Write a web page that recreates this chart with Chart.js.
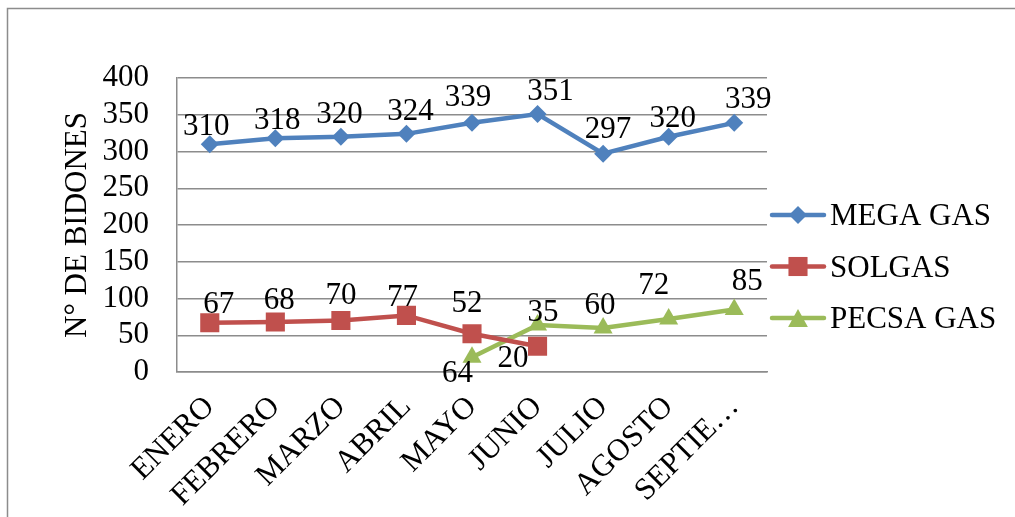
<!DOCTYPE html>
<html><head><meta charset="utf-8">
<script src="https://cdn.jsdelivr.net/npm/chart.js@4.4.1/dist/chart.umd.min.js"></script>
<style>html,body{margin:0;padding:0;background:#fff;overflow:hidden}</style>
</head><body>
<canvas id="c" width="1015" height="517"></canvas>
<script>
// ---- data ----
const months = ['ENERO','FEBRERO','MARZO','ABRIL','MAYO','JUNIO','JULIO','AGOSTO','SEPTIEMBRE'];
const megaGas  = [310,318,320,324,339,351,297,320,339];
const solgas   = [67,68,70,77,52,35,null,null,null];
const pecsaGas = [null,null,null,null,20,64,60,72,85];
const megaGasLabels  = ['310','318','320','324','339','351','297','320','339'];
const solgasLabels   = ['67','68','70','77','52','35','','',''];
const pecsaGasLabels = ['','','','','64','20','60','72','85'];
const seriesNames = ['MEGA GAS','SOLGAS','PECSA GAS'];
const yMin = 0, yMax = 400, yStep = 50;
const yTitle = 'N° DE BIDONES';

// ---- style ----
const FONT = '"Liberation Serif","Times New Roman",serif';
const FS = 31;
const colors = ['#4F81BD','#C0504D','#9BBB59'];
const pointStyles = ['rectRot','rect','triangle'];
const pointRadii = [9,13.5,11];
// label offsets (dx, dy) of label center from its point
const labelOffsets = [
  [[-3.5,-19],[2,-20],[-1.5,-24],[4,-24],[-4,-27],[13,-24],[5,-26],[4,-20],[14,-25]],
  [[9,-20],[4,-23],[0,-27],[-4,-20],[-5,-32],[5.5,-36],null,null,null],
  [null,null,null,null,[-14.5,14],[-24.5,32],[-3,-24],[-15,-35],[13,-30]]
];
const labelTexts = [megaGasLabels, solgasLabels, pecsaGasLabels];

const dataLabelPlugin = {
  id: 'dataLabels',
  afterDatasetsDraw(chart) {
    const ctx = chart.ctx;
    ctx.save();
    ctx.font = FS + 'px ' + FONT;
    ctx.fillStyle = '#000';
    ctx.textAlign = 'center';
    ctx.textBaseline = 'alphabetic';
    chart.data.datasets.forEach((ds, i) => {
      const meta = chart.getDatasetMeta(i);
      meta.data.forEach((pt, j) => {
        const t = labelTexts[i][j];
        const off = labelOffsets[i][j];
        if (!t || !off || ds.data[j] == null) return;
        ctx.fillText(t, pt.x + off[0], pt.y + off[1] + 0.33 * FS);
      });
    });
    ctx.restore();
  }
};

function drawMarker(ctx, style, x, y, r, color) {
  ctx.fillStyle = color;
  ctx.beginPath();
  if (style === 'rectRot') {
    ctx.moveTo(x - r, y); ctx.lineTo(x, y - r); ctx.lineTo(x + r, y); ctx.lineTo(x, y + r);
  } else if (style === 'rect') {
    const s = Math.SQRT1_2 * r;
    ctx.rect(x - s, y - s, 2 * s, 2 * s);
  } else {
    const h = r * 0.82;
    ctx.moveTo(x, y - h); ctx.lineTo(x + r * 0.9, y + h); ctx.lineTo(x - r * 0.9, y + h);
  }
  ctx.closePath();
  ctx.fill();
}

const legendPlugin = {
  id: 'sideLegend',
  afterDraw(chart) {
    const ctx = chart.ctx;
    const x0 = 772, x1 = 824, tx = 830, y0 = 215, gap = 51.5;
    ctx.save();
    chart.data.datasets.forEach((ds, i) => {
      const y = y0 + i * gap;
      ctx.strokeStyle = ds.borderColor;
      ctx.lineWidth = 4.5;
      ctx.lineCap = 'round';
      ctx.beginPath(); ctx.moveTo(x0, y); ctx.lineTo(x1, y); ctx.stroke();
      drawMarker(ctx, pointStyles[i], (x0 + x1) / 2, y, pointRadii[i], ds.borderColor);
      ctx.fillStyle = '#000';
      ctx.font = FS + 'px ' + FONT;
      ctx.textAlign = 'left';
      ctx.textBaseline = 'alphabetic';
      ctx.fillText(ds.label, tx, y + 0.33 * FS);
    });
    ctx.restore();
  }
};

const framePlugin = {
  id: 'frame',
  beforeDraw(chart) {
    const ctx = chart.ctx;
    ctx.save();
    ctx.fillStyle = '#fff';
    ctx.fillRect(0, 0, chart.width, chart.height);
    ctx.strokeStyle = '#8c8c8c';
    ctx.lineWidth = 1.5;
    ctx.strokeRect(7.5, 8.5, chart.width + 20, chart.height + 20);
    ctx.restore();
  }
};

const seriesData = [megaGas, solgas, pecsaGas];
new Chart(document.getElementById('c'), {
  type: 'line',
  data: {
    labels: months,
    datasets: seriesData.map((d, i) => ({
      label: seriesNames[i],
      data: d,
      borderColor: colors[i],
      backgroundColor: colors[i],
      borderWidth: 4.5,
      pointStyle: pointStyles[i],
      pointRadius: pointRadii[i],
      pointHoverRadius: pointRadii[i],
      pointBorderWidth: 0,
      pointBackgroundColor: colors[i],
      tension: 0,
      fill: false
    }))
  },
  options: {
    responsive: false,
    animation: false,
    devicePixelRatio: 1,
    layout: { padding: { left: 0, top: 78, right: 248, bottom: 0 } },
    plugins: { legend: { display: false }, tooltip: { enabled: false } },
    scales: {
      x: {
        offset: true,
        grid: { display: false, drawTicks: false },
        border: { display: true, color: '#8c8c8c', width: 1.5 },
        ticks: {
          autoSkip: false, minRotation: 45, maxRotation: 45, padding: 17,
          color: '#000', font: { family: FONT, size: FS },
          callback: function(v) { const s = this.getLabelForValue(v); return s.length > 8 ? s.slice(0, 6) + '…' : s; }
        },
        afterFit: s => { s.height = 145; }
      },
      y: {
        min: yMin, max: yMax,
        grid: { color: '#8c8c8c', lineWidth: 1.5, drawTicks: false },
        border: { display: true, color: '#8c8c8c', width: 1.5 },
        ticks: { stepSize: yStep, autoSkip: false, padding: 28, color: '#000', font: { family: FONT, size: FS } },
        title: { display: true, text: yTitle, color: '#000', font: { family: FONT, size: FS }, padding: { top: 59, bottom: 0 } },
        afterFit: s => { s.width = 177; }
      }
    }
  },
  plugins: [framePlugin, dataLabelPlugin, legendPlugin]
});
</script>
</body></html>
